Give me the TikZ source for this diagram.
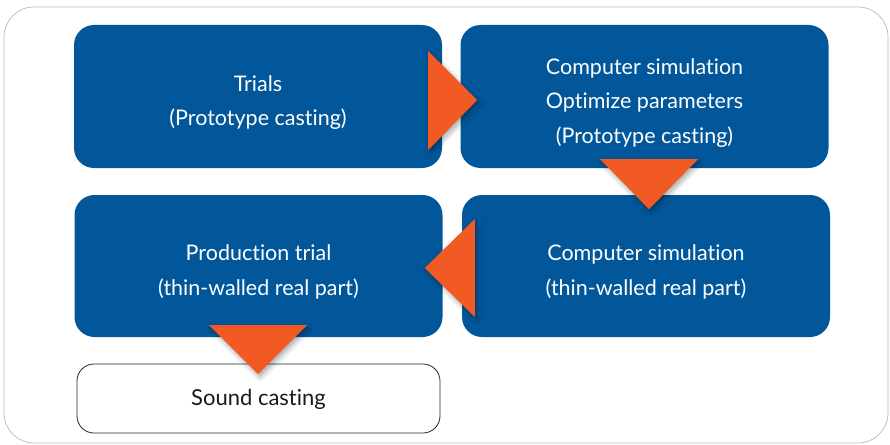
\documentclass[tikz,border=0pt]{standalone}
\usepackage{fontspec}
\setmainfont{Lato}[Ligatures=NoCommon]
\usetikzlibrary{calc,shadows.blur}
\definecolor{stepblue}{HTML}{02579A}
\definecolor{flowarrow}{HTML}{F15A22}
\definecolor{framegray}{HTML}{B4BCC0}
% a tall invisible strut that lowers the first text line a little
\newcommand{\lowerstrut}{\rule{0pt}{28pt}}
\tikzset{
  bluebox/.style={fill=stepblue, rounded corners=20pt, minimum width=368pt,
    minimum height=143pt, align=center, text=white, font=\fontsize{21.5}{34.5}\selectfont,
    inner sep=0pt},
  endbox/.style={draw=black!85, line width=0.8pt, rounded corners=17pt, minimum width=363pt,
    minimum height=69pt, font=\fontsize{22}{26}\selectfont, text=black!90, inner sep=0pt,
    text height=17pt, text depth=3pt},
  tri/.style={fill=flowarrow, blur shadow={shadow xshift=2pt, shadow yshift=-3pt,
    shadow blur steps=6, shadow blur radius=5pt, shadow opacity=35}},
}
\begin{document}
\begin{tikzpicture}[x=1pt, y=-1pt]
  \useasboundingbox (0,0) rectangle (890,444);
  % outer frame
  \draw[framegray, line width=0.7pt, rounded corners=30pt] (4,7) rectangle (888,443);

  % process steps
  \node[bluebox] (trials) at (258,96.5) {\lowerstrut Trials\\(Prototype casting)};
  \node[bluebox] (simopt) at (644.5,96.5) {\lowerstrut Computer simulation\\Optimize parameters\\(Prototype casting)};
  \node[bluebox, minimum height=142pt] (prod) at (258.5,266) {\lowerstrut Production trial\\(thin-walled real part)};
  \node[bluebox, minimum height=142pt] (simreal) at (646,266) {\lowerstrut Computer simulation\\(thin-walled real part)};
  \node[endbox] (sound) at (258.5,398.5) {Sound casting};

  % orange flow arrows
  \fill[tri] ($(trials.east)+(-14,-45.5)$) -- ($(trials.east)+(35,3.5)$) -- ($(trials.east)+(-14,53.5)$) -- cycle;
  \fill[tri] ($(simopt.south)+(-44.5,-9)$) -- ($(simopt.south)+(53.5,-9)$) -- ($(simopt.south)+(4.5,41)$) -- cycle;
  \fill[tri] ($(simreal.west)+(13,-47)$) -- ($(simreal.west)+(13,51)$) -- ($(simreal.west)+(-37,2)$) -- cycle;
  \fill[tri] ($(prod.south)+(-49.5,-12)$) -- ($(prod.south)+(48.5,-12)$) -- ($(prod.south)+(-0.5,37)$) -- cycle;
\end{tikzpicture}
\end{document}
